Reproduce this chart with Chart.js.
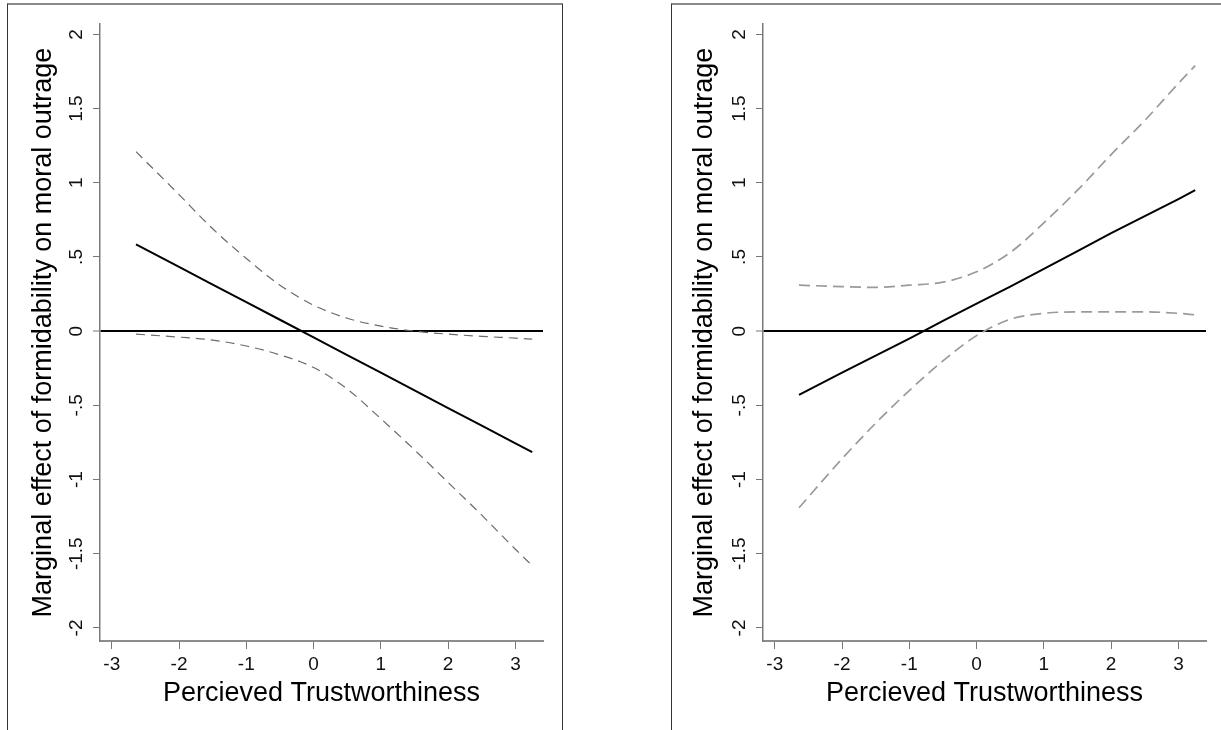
<!DOCTYPE html>
<html>
<head>
<meta charset="utf-8">
<script src="https://cdn.jsdelivr.net/npm/chart.js@4.4.1/dist/chart.umd.min.js"></script>
<style>
  html, body { margin: 0; padding: 0; background: #fff; overflow: hidden; }
  .panel { position: absolute; top: 3px; height: 760px; border-left: 1px solid #333; border-right: 1px solid #333; border-top: 2px solid #8a8a8a; background: #fff; }
  #leftPanel { left: 7px; width: 554px; }
  #rightPanel { left: 671px; width: 560px; border-right: none; }
  canvas { position: absolute; top: 0; left: 0; }
</style>
</head>
<body>
<div class="panel" id="leftPanel"><canvas id="leftChart" width="554" height="725"></canvas></div>
<div class="panel" id="rightPanel"><canvas id="rightChart" width="549" height="725"></canvas></div>
<script>
// x positions where the effect was evaluated
const trust = [-2.64, -2, -1.5, -1, -0.5, 0, 0.5, 1, 1.5, 2, 2.5, 3, 3.25];

// left panel
const leftEffect = [0.585, 0.433, 0.314, 0.195, 0.077, -0.042, -0.161, -0.28, -0.399, -0.518, -0.637, -0.756, -0.815];
const leftUpper = [1.21, 0.92, 0.69, 0.49, 0.31, 0.175, 0.087, 0.034, 0.0, -0.02, -0.035, -0.047, -0.054];
const leftLower = [-0.02, -0.04, -0.06, -0.10, -0.16, -0.245, -0.39, -0.59, -0.80, -1.02, -1.24, -1.47, -1.58];

// right panel
const rightEffect = [-0.43, -0.28, -0.165, -0.05, 0.07, 0.185, 0.30, 0.42, 0.54, 0.66, 0.775, 0.89, 0.95];
const rightUpper = [0.31, 0.30, 0.295, 0.31, 0.33, 0.40, 0.53, 0.73, 0.95, 1.19, 1.42, 1.67, 1.79];
const rightLower = [-1.19, -0.86, -0.62, -0.40, -0.20, -0.03, 0.08, 0.12, 0.13, 0.13, 0.13, 0.12, 0.11];

const xTicks = [-3, -2, -1, 0, 1, 2, 3];
const yTicks = [-2, -1.5, -1, -0.5, 0, 0.5, 1, 1.5, 2];

const xTitle = 'Percieved Trustworthiness';
const yTitle = 'Marginal effect of formidability on moral outrage';

const FONT = '"Liberation Sans", Arial, sans-serif';

function pts(ys) {
  return trust.map((x, i) => ({ x: x, y: ys[i] }));
}

// stata style labels: .5 instead of 0.5
function stataLabel(v) {
  return String(v).replace(/^(-?)0\./, '$1.');
}

function makeChart(id, effect, upper, lower, cfg) {
  const ctx = document.getElementById(id).getContext('2d');
  const dashed = {
    borderColor: cfg.dashColor,
    borderWidth: cfg.dashWidth,
    borderDash: cfg.dash,
    pointRadius: 0,
    cubicInterpolationMode: 'monotone',
  };
  return new Chart(ctx, {
    type: 'line',
    data: {
      datasets: [
        Object.assign({ data: pts(upper) }, dashed),
        Object.assign({ data: pts(lower) }, dashed),
        {
          data: pts(effect),
          borderColor: '#000',
          borderWidth: 2,
          pointRadius: 0,
          tension: 0,
        },
      ],
    },
    options: {
      responsive: false,
      animation: false,
      devicePixelRatio: 1,
      layout: { padding: { top: 19, right: cfg.rightPad, left: 0, bottom: 0 } },
      plugins: { legend: { display: false }, tooltip: { enabled: false } },
      scales: {
        x: {
          type: 'linear',
          min: -3.175,
          max: 3.41,
          afterBuildTicks: s => { s.ticks = xTicks.map(v => ({ value: v })); },
          afterFit: s => { s.height = 89; },
          grid: { drawOnChartArea: false, tickLength: 8, tickColor: '#777', tickWidth: 1 },
          border: { display: true, color: '#8c8c8c', width: 2 },
          ticks: { color: '#111', font: { family: FONT, size: 19 }, padding: 4, maxRotation: 0 },
          title: { display: true, text: xTitle, color: '#000', font: { family: FONT, size: 27 }, padding: { top: 0, bottom: 20 } },
        },
        y: {
          min: -2.088,
          max: 2.07,
          afterBuildTicks: s => { s.ticks = yTicks.map(v => ({ value: v })); },
          afterFit: s => { s.width = cfg.yWidth; },
          grid: {
            drawOnChartArea: true,
            color: c => (c.tick && c.tick.value === 0 ? '#000' : 'rgba(0,0,0,0)'),
            lineWidth: c => (c.tick && c.tick.value === 0 ? 2 : 1),
            tickLength: 7,
            tickColor: '#777',
            tickWidth: 1,
          },
          border: { display: true, color: '#7a7a7a', width: 1.5 },
          ticks: {
            color: '#111',
            font: { family: FONT, size: 19 },
            padding: 0,
            minRotation: 90,
            maxRotation: 90,
            crossAlign: 'center',
            callback: v => stataLabel(v),
          },
          title: { display: true, text: yTitle, color: '#000', font: { family: FONT, size: 27 }, padding: { top: cfg.titlePad, bottom: 0 } },
        },
      },
    },
  });
}

makeChart('leftChart', leftEffect, leftUpper, leftLower,
  { dashColor: '#6a6a6a', dashWidth: 1.2, dash: [9, 6], rightPad: 19, yWidth: 92, titlePad: 19 });
makeChart('rightChart', rightEffect, rightUpper, rightLower,
  { dashColor: '#9a9a9a', dashWidth: 1.7, dash: [11, 6], rightPad: 15, yWidth: 91, titlePad: 16 });
</script>
</body>
</html>
